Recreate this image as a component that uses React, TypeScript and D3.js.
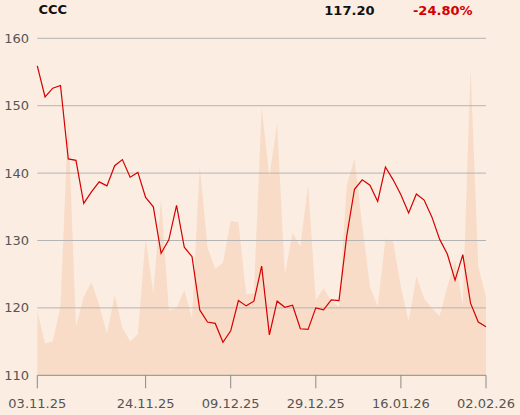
import React from "react";
import * as d3 from "d3";

const ticker = "CCC";
const lastPrice = "117.20";
const change = "-24.80%";

const prices: number[] = [
  155.9, 151.3, 152.6, 153.0, 142.1, 141.9, 135.5, 137.2, 138.7, 138.1,
  141.1, 142.0, 139.4, 140.1, 136.4, 135.0, 128.1, 130.1, 135.2, 129.0,
  127.6, 119.7, 117.9, 117.7, 114.9, 116.6, 121.1, 120.3, 121.0, 126.2,
  116.0, 121.0, 120.1, 120.4, 116.9, 116.8, 120.0, 119.7, 121.2, 121.1,
  130.7, 137.6, 139.0, 138.2, 135.8, 140.9, 139.0, 136.8, 134.1, 136.9,
  136.0, 133.5, 130.2, 128.0, 124.1, 127.9, 120.7, 117.9, 117.2,
];

const volumes: number[] = [
  18.9, 9.5, 10.0, 20.4, 75.8, 14.4, 23.3, 27.6, 20.9, 12.3,
  23.8, 14.1, 10.0, 12.2, 40.7, 24.3, 52.3, 19.2, 19.9, 25.3,
  16.9, 62.2, 38.0, 31.6, 33.4, 45.8, 45.4, 24.1, 24.3, 79.5,
  58.9, 74.7, 29.8, 42.3, 38.2, 56.4, 22.3, 25.8, 22.0, 20.4,
  56.5, 64.2, 44.6, 26.3, 20.4, 40.4, 39.6, 26.3, 15.9, 29.3,
  22.8, 19.9, 17.6, 26.3, 34.0, 20.9, 91.1, 32.2, 23.3,
];

const xTickIndex: number[] = [0, 14, 25, 36, 47, 58];
const xTickLabels: string[] = ["03.11.25", "24.11.25", "09.12.25", "29.12.25", "16.01.26", "02.02.26"];
const yTicks: number[] = [110, 120, 130, 140, 150, 160];

export default function App() {
  const W = 520, H = 415;
  const left = 37.3, right = 486, top = 38.3, bottom = 375.3;
  const x = d3.scaleLinear().domain([0, prices.length - 1]).range([left, right]);
  const y = d3.scaleLinear().domain([110, 160]).range([bottom, top]);
  const yv = d3.scaleLinear().domain([0, 100]).range([bottom, top]);

  const area = d3.area<number>().x((_, i) => x(i)).y0(bottom).y1((d) => yv(d))(volumes) || "";
  const line = d3.line<number>().x((_, i) => x(i)).y((d) => y(d))(prices) || "";

  const font = "'DejaVu Sans', sans-serif";
  return (
    <svg width={W} height={H} style={{ position: "absolute", left: 0, top: 0, background: "#FBEDE1" }}>
      <rect x={0} y={0} width={W} height={H} fill="#FBEDE1" />
      <path d={area} fill="#F8DCC7" />
      {yTicks.map((t) => (
        <g key={t}>
          <line x1={left} x2={right} y1={y(t)} y2={y(t)} stroke={t === 110 ? "#8a8a8a" : "#b4b4b4"} strokeWidth={1} />
          <text x={29} y={y(t)} dy="0.35em" textAnchor="end" fontFamily={font} fontSize={13} fill="#555">{t}</text>
        </g>
      ))}
      {xTickIndex.map((idx, i) => (
        <g key={idx}>
          <line x1={x(idx)} x2={x(idx)} y1={bottom} y2={bottom + 13} stroke="#8a8a8a" strokeWidth={1} />
          <text x={x(idx)} y={408} textAnchor="middle" fontFamily={font} fontSize={13} fill="#555">{xTickLabels[i]}</text>
        </g>
      ))}
      <path d={line} fill="none" stroke="#D40000" strokeWidth={1.2} strokeLinejoin="miter" />
      <text x={38.5} y={14.3} fontFamily={font} fontWeight="bold" fontSize={13} fill="#111">{ticker}</text>
      <text x={374.5} y={15} textAnchor="end" fontFamily={font} fontWeight="bold" fontSize={13} fill="#111">{lastPrice}</text>
      <text x={472.5} y={15} textAnchor="end" fontFamily={font} fontWeight="bold" fontSize={13} fill="#D40000">{change}</text>
    </svg>
  );
}
